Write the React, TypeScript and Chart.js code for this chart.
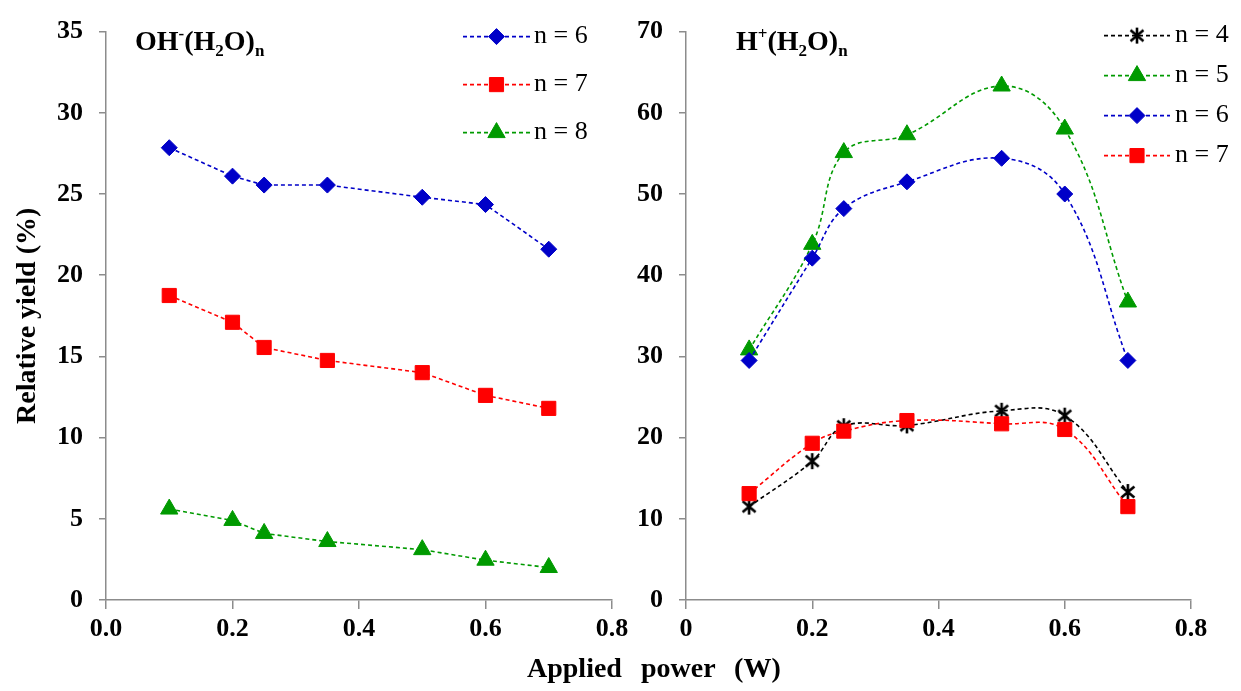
import React, { useEffect, useRef } from 'react';
import { Chart, registerables } from 'chart.js';

Chart.register(...registerables);

// ---------- data ----------
const powerW = [0.1, 0.2, 0.25, 0.35, 0.5, 0.6, 0.7];

const ohSeriesLabels = ['n = 6', 'n = 7', 'n = 8'];
const ohN6 = [27.85, 26.1, 25.55, 25.55, 24.8, 24.35, 21.6];
const ohN7 = [18.75, 17.1, 15.55, 14.75, 14.0, 12.6, 11.8];
const ohN8 = [5.6, 4.9, 4.1, 3.6, 3.1, 2.45, 2.0];

const hSeriesLabels = ['n = 4', 'n = 5', 'n = 6', 'n = 7'];
const hN4 = [11.5, 17.1, 21.4, 21.5, 23.3, 22.7, 13.3];
const hN5 = [30.8, 43.8, 55.1, 57.3, 63.3, 58.0, 36.7];
const hN6 = [29.5, 42.1, 48.2, 51.5, 54.4, 50.0, 29.5];
const hN7 = [13.1, 19.3, 20.8, 22.1, 21.7, 21.0, 11.5];

const ohYMax = 35;
const ohYStep = 5;
const hYMax = 70;
const hYStep = 10;
const xMax = 0.8;
const xStep = 0.2;

// ---------- styles ----------
const BLUE = '#0000C8';
const RED = '#FF0000';
const GREEN = '#009A00';
const BLACK = '#000000';
const AXIS = '#8c8c8c';
const FONT = '"Liberation Serif", "Times New Roman", serif';

function makeAsterisk(): HTMLCanvasElement {
  const c = document.createElement('canvas');
  c.width = 18;
  c.height = 18;
  const g = c.getContext('2d')!;
  g.strokeStyle = BLACK;
  g.lineWidth = 2.6;
  g.lineCap = 'butt';
  g.beginPath();
  g.moveTo(9, 1); g.lineTo(9, 17);
  g.moveTo(2.5, 3.5); g.lineTo(15.5, 14.5);
  g.moveTo(15.5, 3.5); g.lineTo(2.5, 14.5);
  g.stroke();
  return c;
}

function series(label: string, values: number[], color: string, pointStyle: any, radius: number, tension: number, order: number) {
  return {
    label,
    data: powerW.map((x, i) => ({ x, y: values[i] })),
    borderColor: color,
    borderWidth: 1.6,
    borderDash: [4, 3],
    pointStyle,
    pointRadius: radius,
    pointBackgroundColor: color,
    pointBorderColor: color,
    pointBorderWidth: 1,
    tension,
    order,
    fill: false,
  };
}

function drawMarker(ctx: CanvasRenderingContext2D, style: any, x: number, y: number, r: number, fill: string) {
  ctx.save();
  ctx.fillStyle = fill;
  ctx.strokeStyle = fill;
  ctx.lineWidth = 1;
  if (style instanceof HTMLCanvasElement) {
    ctx.drawImage(style, x - style.width / 2, y - style.height / 2);
    ctx.restore();
    return;
  }
  ctx.beginPath();
  if (style === 'rectRot') {
    ctx.moveTo(x - r, y); ctx.lineTo(x, y - r); ctx.lineTo(x + r, y); ctx.lineTo(x, y + r);
  } else if (style === 'rect') {
    const s = Math.SQRT1_2 * r;
    ctx.rect(x - s, y - s, 2 * s, 2 * s);
  } else if (style === 'triangle') {
    let a = 0;
    ctx.moveTo(x + Math.sin(a) * r, y - Math.cos(a) * r);
    a += (2 * Math.PI) / 3;
    ctx.lineTo(x + Math.sin(a) * r, y - Math.cos(a) * r);
    a += (2 * Math.PI) / 3;
    ctx.lineTo(x + Math.sin(a) * r, y - Math.cos(a) * r);
  }
  ctx.closePath();
  ctx.fill();
  ctx.stroke();
  ctx.restore();
}

const insideLegend = {
  id: 'insideLegend',
  afterDatasetsDraw(chart: any, _args: any, opts: any) {
    const { ctx, chartArea } = chart;
    chart.data.datasets.forEach((ds: any, i: number) => {
      const y = chartArea.top + opts.dy + i * opts.spacing;
      const x0 = chartArea.right + opts.dx;
      const x1 = x0 + opts.lineLen;
      ctx.save();
      ctx.strokeStyle = ds.borderColor;
      ctx.lineWidth = ds.borderWidth;
      ctx.setLineDash(ds.borderDash);
      ctx.beginPath();
      ctx.moveTo(x0, y);
      ctx.lineTo(x1, y);
      ctx.stroke();
      ctx.setLineDash([]);
      drawMarker(ctx, ds.pointStyle, (x0 + x1) / 2, y, ds.pointRadius, ds.pointBackgroundColor);
      ctx.fillStyle = BLACK;
      ctx.font = `26px ${FONT}`;
      ctx.textBaseline = 'middle';
      ctx.textAlign = 'left';
      ctx.fillText(ds.label, x1 + opts.gap, y);
      ctx.restore();
    });
  },
};

function axisOptions(yMax: number, yStep: number, yWidth: number, showTitle: boolean, zeroLabel: string) {
  return {
    x: {
      type: 'linear',
      min: 0,
      max: xMax,
      ticks: {
        stepSize: xStep,
        color: BLACK,
        font: { family: FONT, size: 26, weight: 'bold' },
        padding: 5,
        callback: (v: number) => (Math.abs(v) < 1e-9 ? zeroLabel : Number(v).toFixed(1)),
      },
      grid: { display: true, drawOnChartArea: false, drawTicks: true, tickLength: 9, color: AXIS, lineWidth: 1.5 },
      border: { display: true, color: AXIS, width: 1.5 },
      afterFit: (s: any) => { s.height = 91; },
    },
    y: {
      type: 'linear',
      min: 0,
      max: yMax,
      ticks: {
        stepSize: yStep,
        color: BLACK,
        font: { family: FONT, size: 26, weight: 'bold' },
        padding: 16,
      },
      grid: { display: true, drawOnChartArea: false, drawTicks: true, tickLength: 7, color: AXIS, lineWidth: 1.5 },
      border: { display: true, color: AXIS, width: 1.5 },
      title: {
        display: showTitle,
        text: 'Relative yield (%)',
        color: BLACK,
        font: { family: FONT, size: 28, weight: 'bold' },
        padding: { top: 11, bottom: 0 },
      },
      afterFit: (s: any) => { s.width = yWidth; },
    },
  };
}

function useChart(ref: React.RefObject<HTMLCanvasElement>, build: () => any) {
  useEffect(() => {
    if (!ref.current) return;
    const chart = new Chart(ref.current, build());
    return () => chart.destroy();
  }, []);
}

export default function App() {
  const leftRef = useRef<HTMLCanvasElement>(null);
  const rightRef = useRef<HTMLCanvasElement>(null);

  useChart(leftRef, () => ({
    type: 'line',
    data: {
      datasets: [
        series(ohSeriesLabels[0], ohN6, BLUE, 'rectRot', 8, 0, 3),
        series(ohSeriesLabels[1], ohN7, RED, 'rect', 10, 0, 2),
        series(ohSeriesLabels[2], ohN8, GREEN, 'triangle', 10, 0, 1),
      ],
    },
    options: {
      responsive: false,
      animation: false,
      layout: { padding: { left: 0, right: 22, top: 19, bottom: 0 } },
      plugins: {
        legend: { display: false },
        tooltip: { enabled: false },
        insideLegend: { dx: -149, dy: 5, spacing: 48, lineLen: 67, gap: 4 },
      },
      scales: axisOptions(ohYMax, ohYStep, 106, true, '0.0'),
    },
    plugins: [insideLegend],
  }));

  useChart(rightRef, () => {
    const star = makeAsterisk();
    return {
      type: 'line',
      data: {
        datasets: [
          series(hSeriesLabels[0], hN4, BLACK, star, 8, 0.4, 4),
          series(hSeriesLabels[1], hN5, GREEN, 'triangle', 10, 0.4, 3),
          series(hSeriesLabels[2], hN6, BLUE, 'rectRot', 8, 0.4, 2),
          series(hSeriesLabels[3], hN7, RED, 'rect', 10, 0.4, 1),
        ],
      },
      options: {
        responsive: false,
        animation: false,
        layout: { padding: { left: 0, right: 50, top: 19, bottom: 0 } },
        plugins: {
          legend: { display: false },
          tooltip: { enabled: false },
          insideLegend: { dx: -87, dy: 4, spacing: 40, lineLen: 66, gap: 5 },
        },
        scales: axisOptions(hYMax, hYStep, 52, false, '0'),
      },
      plugins: [insideLegend],
    };
  });

  const titleStyle: React.CSSProperties = {
    position: 'absolute',
    top: 27,
    font: `bold 28px ${FONT}`,
    lineHeight: '28px',
    whiteSpace: 'nowrap',
    color: BLACK,
  };
  const sup: React.CSSProperties = { fontSize: 17, position: 'relative', top: -11 };
  const sub: React.CSSProperties = { fontSize: 17, position: 'relative', top: 6 };

  return (
    <div style={{ position: 'absolute', left: 0, top: 0, width: 1241, height: 691, background: '#fff', overflow: 'hidden' }}>
      <canvas ref={leftRef} width={634} height={691} style={{ position: 'absolute', left: 0, top: 0 }} />
      <canvas ref={rightRef} width={607} height={691} style={{ position: 'absolute', left: 634, top: 0 }} />
      <div style={{ ...titleStyle, left: 135 }}>
        OH<span style={sup}>-</span>(H<span style={sub}>2</span>O)<span style={sub}>n</span>
      </div>
      <div style={{ ...titleStyle, left: 736 }}>
        H<span style={sup}>+</span>(H<span style={sub}>2</span>O)<span style={sub}>n</span>
      </div>
      <div style={{ position: 'absolute', left: 527, top: 654, font: `bold 28px ${FONT}`, lineHeight: '28px', wordSpacing: 12, whiteSpace: 'nowrap', color: BLACK }}>
        Applied power (W)
      </div>
    </div>
  );
}
